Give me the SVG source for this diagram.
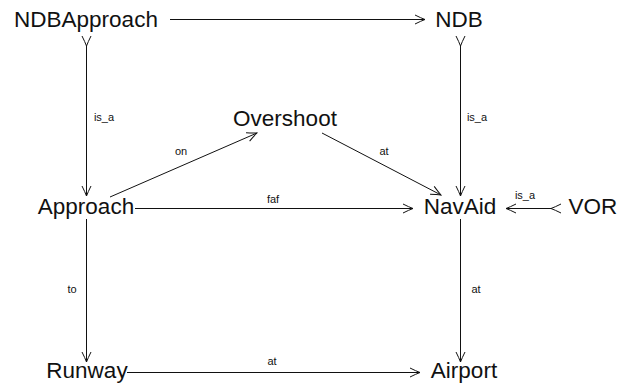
<svg xmlns="http://www.w3.org/2000/svg" width="619" height="385" viewBox="0 0 619 385">
<style>
.n{font-family:"Liberation Sans","DejaVu Sans",sans-serif;font-size:22.5px;fill:#111;text-anchor:middle}
.l{font-family:"Liberation Sans","DejaVu Sans",sans-serif;font-size:11px;fill:#111;text-anchor:middle}
.e{stroke:#111;stroke-width:1;fill:none}
</style>
<defs>
<marker id="h" markerUnits="userSpaceOnUse" viewBox="-11 -6 12 12" refX="0" refY="0" markerWidth="12" markerHeight="12" orient="auto">
<path d="M-10,-4.5 Q-4,-1.5 0,0 Q-4,1.5 -10,4.5" fill="none" stroke="#111" stroke-width="1"/>
</marker>
<marker id="t" markerUnits="userSpaceOnUse" viewBox="-11 -6 12 12" refX="0" refY="0" markerWidth="12" markerHeight="12" orient="auto">
<path d="M-10,-4.5 Q-4,-1.5 0,0 Q-4,1.5 -10,4.5" fill="none" stroke="#111" stroke-width="1"/>
</marker>
</defs>
<g id="connectors">
<line class="e" x1="170" y1="19.5" x2="425" y2="19.5" marker-end="url(#h)"/>
<line class="e" x1="86.5" y1="46" x2="86.5" y2="196" marker-start="url(#t)" marker-end="url(#h)"/>
<line class="e" x1="460.5" y1="46" x2="460.5" y2="196" marker-start="url(#t)" marker-end="url(#h)"/>
<line class="e" x1="110" y1="197" x2="257" y2="133" marker-end="url(#h)"/>
<line class="e" x1="322" y1="133" x2="441" y2="195" marker-end="url(#h)"/>
<line class="e" x1="135" y1="208.5" x2="413" y2="208.5" marker-end="url(#h)"/>
<line class="e" x1="551" y1="208.5" x2="506" y2="208.5" marker-start="url(#t)" marker-end="url(#h)"/>
<line class="e" x1="86.5" y1="219" x2="86.5" y2="362" marker-end="url(#h)"/>
<line class="e" x1="460.5" y1="219" x2="460.5" y2="362" marker-end="url(#h)"/>
<line class="e" x1="127" y1="372.5" x2="420" y2="372.5" marker-end="url(#h)"/>
<text class="l" x="104" y="121">is_a</text>
<text class="l" x="477" y="121">is_a</text>
<text class="l" x="181" y="155">on</text>
<text class="l" x="384" y="155">at</text>
<text class="l" x="273" y="203">faf</text>
<text class="l" x="525" y="199">is_a</text>
<text class="l" x="72" y="293">to</text>
<text class="l" x="476" y="293">at</text>
<text class="l" x="272" y="365">at</text>
</g>
<g id="NDBApproach"><text class="n" x="86" y="27">NDBApproach</text></g>
<g id="NDB"><text class="n" x="459" y="27">NDB</text></g>
<g id="Overshoot"><text class="n" x="285" y="126">Overshoot</text></g>
<g id="Approach"><text class="n" x="86" y="214">Approach</text></g>
<g id="NavAid"><text class="n" x="460" y="214">NavAid</text></g>
<g id="VOR"><text class="n" x="593" y="214">VOR</text></g>
<g id="Runway"><text class="n" x="87" y="378">Runway</text></g>
<g id="Airport"><text class="n" x="464" y="378">Airport</text></g>
</svg>
